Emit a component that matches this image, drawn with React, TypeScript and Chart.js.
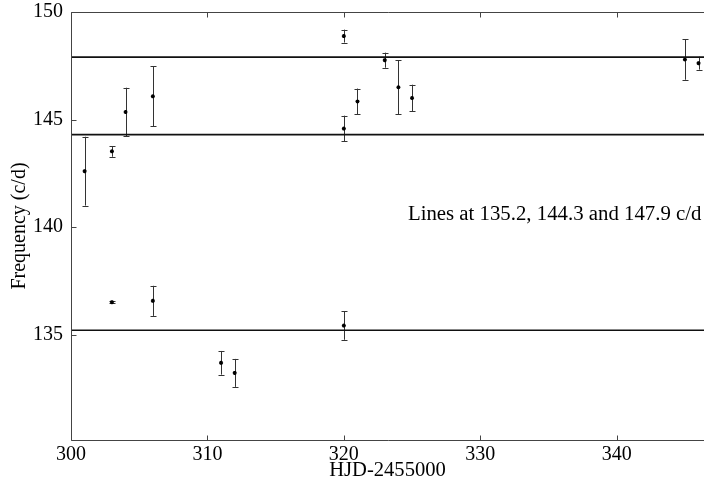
import React, { useEffect, useRef } from "react";
import { Chart, registerables } from "chart.js";

Chart.register(...registerables);

// ---- data ----
const epochs = [301, 303, 303, 304, 306, 306, 311, 312, 320, 320, 320, 321, 323, 324, 325, 345, 346];
const freqs = [142.6, 143.52, 136.51, 145.35, 146.08, 136.57, 133.69, 133.22, 148.88, 144.58, 135.42, 145.84, 147.76, 146.5, 146.0, 147.79, 147.62];
const errs = [1.6, 0.25, 0.05, 1.13, 1.4, 0.7, 0.55, 0.65, 0.3, 0.6, 0.66, 0.6, 0.35, 1.25, 0.62, 0.94, 0.3];
const lineLevels = [135.2, 144.3, 147.9];
const xTicks = [300, 310, 320, 330, 340];
const yTicks = [135, 140, 145, 150];
const xRange = [300, 346.4];
const yRange = [130.1, 150];
const xTitle = "HJD-2455000";
const yTitle = "Frequency (c/d)";
const noteText = "Lines at 135.2, 144.3 and 147.9 c/d";
const notePos = [324.7, 140.6];

const FONT = "'Liberation Serif', 'Times New Roman', serif";

const framePlugin = {
  id: "framePlugin",
  beforeDatasetsDraw(chart: any) {
    const { ctx, scales } = chart;
    const xs = scales.x;
    const ys = scales.y;
    ctx.save();
    ctx.strokeStyle = "#333";
    ctx.lineWidth = 1;
    for (let i = 0; i < epochs.length; i++) {
      const px = Math.round(xs.getPixelForValue(epochs[i])) + 0.5;
      const top = ys.getPixelForValue(freqs[i] + errs[i]);
      const bot = ys.getPixelForValue(freqs[i] - errs[i]);
      ctx.beginPath();
      ctx.moveTo(px, top);
      ctx.lineTo(px, bot);
      ctx.moveTo(px - 3, Math.round(top) + 0.5);
      ctx.lineTo(px + 3, Math.round(top) + 0.5);
      ctx.moveTo(px - 3, Math.round(bot) + 0.5);
      ctx.lineTo(px + 3, Math.round(bot) + 0.5);
      ctx.stroke();
    }
    ctx.restore();
  },
  afterDatasetsDraw(chart: any) {
    const { ctx, chartArea, scales } = chart;
    const xs = scales.x;
    const ys = scales.y;
    const L = Math.round(chartArea.left) + 0.5;
    const T = Math.round(chartArea.top) + 0.5;
    const B = Math.round(chartArea.bottom) + 0.5;
    const R = chartArea.right + 2;
    ctx.save();
    ctx.strokeStyle = "#444";
    ctx.lineWidth = 1;
    ctx.beginPath();
    ctx.moveTo(R, T);
    ctx.lineTo(L, T);
    ctx.lineTo(L, B);
    ctx.lineTo(R, B);
    ctx.stroke();
    ctx.beginPath();
    for (const v of xTicks) {
      const px = Math.round(xs.getPixelForValue(v)) + 0.5;
      ctx.moveTo(px, T);
      ctx.lineTo(px, T + 5);
      ctx.moveTo(px, B);
      ctx.lineTo(px, B - 5);
    }
    for (const v of yTicks) {
      const py = Math.round(ys.getPixelForValue(v)) + 0.5;
      ctx.moveTo(L, py);
      ctx.lineTo(L + 5, py);
    }
    ctx.stroke();
    ctx.fillStyle = "#000";
    ctx.font = "20.8px " + FONT;
    ctx.textAlign = "left";
    ctx.textBaseline = "middle";
    ctx.fillText(noteText, xs.getPixelForValue(notePos[0]), ys.getPixelForValue(notePos[1]));
    ctx.restore();
  },
};

export default function App() {
  const ref = useRef<HTMLCanvasElement | null>(null);
  useEffect(() => {
    if (!ref.current) return;
    const lineSets = lineLevels.map((lv) => ({
      type: "line" as const,
      data: [
        { x: xRange[0], y: lv },
        { x: xRange[1] + 1, y: lv },
      ],
      borderColor: "#111",
      borderWidth: 1.6,
      pointRadius: 0,
      showLine: true,
      fill: false,
    }));
    const chart = new Chart(ref.current, {
      type: "scatter",
      data: {
        datasets: [
          ...lineSets,
          {
            type: "scatter" as const,
            data: epochs.map((x, i) => ({ x, y: freqs[i] })),
            pointStyle: "star",
            pointRadius: 2,
            borderColor: "#000",
            backgroundColor: "#000",
            borderWidth: 1.2,
          },
        ] as any,
      },
      options: {
        responsive: false,
        animation: false,
        layout: { autoPadding: false, padding: { top: 12, right: 0, left: 0, bottom: 0 } },
        plugins: { legend: { display: false }, tooltip: { enabled: false } },
        scales: {
          x: {
            type: "linear",
            min: xRange[0],
            max: xRange[1],
            grid: { display: false, drawTicks: false },
            border: { display: false },
            afterBuildTicks: (s: any) => {
              s.ticks = xTicks.map((v) => ({ value: v }));
            },
            afterFit: (s: any) => {
              s.height = 45;
              s.paddingLeft = 0;
              s.paddingRight = 0;
            },
            ticks: {
              color: "#000",
              font: { family: FONT, size: 20 },
              padding: 3,
              maxRotation: 0,
              autoSkip: false,
            },
            title: {
              display: true,
              text: xTitle,
              color: "#000",
              font: { family: FONT, size: 20.6 },
              padding: { top: 0, bottom: 2 },
            },
          },
          y: {
            type: "linear",
            min: yRange[0],
            max: yRange[1],
            grid: { display: false, drawTicks: false },
            border: { display: false },
            afterBuildTicks: (s: any) => {
              s.ticks = yTicks.map((v) => ({ value: v }));
            },
            afterFit: (s: any) => {
              s.width = 71;
              s.paddingTop = 0;
              s.paddingBottom = 0;
            },
            ticks: {
              color: "#000",
              font: { family: FONT, size: 20 },
              padding: 8,
              autoSkip: false,
            },
            title: {
              display: true,
              text: yTitle,
              color: "#000",
              font: { family: FONT, size: 20 },
              padding: { top: 8, bottom: 0 },
            },
          },
        },
      },
      plugins: [framePlugin],
    });
    return () => chart.destroy();
  }, []);
  return (
    <div style={{ position: "fixed", left: 0, top: 0, width: 704, height: 485, background: "#fff" }}>
      <canvas ref={ref} width={704} height={485} style={{ display: "block" }} />
    </div>
  );
}
